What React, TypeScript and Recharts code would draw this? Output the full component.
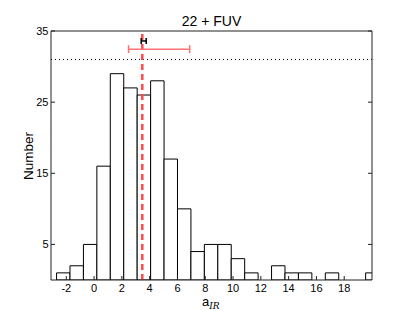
import React from "react";
import {
  ComposedChart, XAxis, YAxis, ReferenceArea, ReferenceLine, Scatter, ErrorBar
} from "recharts";

// histogram of a_IR, bins
const binStart = -2.7;
const binWidth = 0.967;
const counts = [1, 2, 5, 16, 29, 27, 26, 28, 17, 10, 4, 5, 5, 3, 1, 0, 2, 1, 1, 0, 1, 0, 0, 1];

const xTicks = [-2, 0, 2, 4, 6, 8, 10, 12, 14, 16, 18];
const yTicks = [5, 15, 25, 35];

const medianX = 3.47;
const dottedY = 31;
const redErr = [{ x: 4.68, y: 32.45, err: 2.2 }];
const blackErr = [{ x: 3.57, y: 33.6, err: 0.18 }];

const font = "'Liberation Sans', Arial, sans-serif";
const axisColor = "#222";

const BottomTick = (props: any) => {
  const { x, y, payload } = props;
  return (
    <g>
      <line x1={x} y1={y} x2={x} y2={y - 4} stroke={axisColor} />
      <text x={x} y={y + 11.5} textAnchor="middle" fontSize={11} fontFamily={font} fill="#000">
        {payload.value}
      </text>
    </g>
  );
};

const TopTick = (props: any) => {
  const { x, y } = props;
  return <line x1={x} y1={y} x2={x} y2={y + 4} stroke={axisColor} />;
};

const LeftTick = (props: any) => {
  const { x, y, payload } = props;
  return (
    <g>
      <line x1={x} y1={y} x2={x + 4} y2={y} stroke={axisColor} />
      <text x={x - 2.5} y={y + 4} textAnchor="end" fontSize={11} fontFamily={font} fill="#000">
        {payload.value}
      </text>
    </g>
  );
};

const RightTick = (props: any) => {
  const { x, y } = props;
  return <line x1={x} y1={y} x2={x - 4} y2={y} stroke={axisColor} />;
};

const hide = () => <g />;

export default function App() {
  return (
    <div style={{ position: "absolute", left: 0, top: 0, width: 414, height: 311, background: "#fff" }}>
      <ComposedChart
        width={414}
        height={311}
        margin={{ top: 30, right: 41, left: 21, bottom: 11 }}
      >
        <XAxis
          xAxisId="b"
          type="number"
          dataKey="x"
          domain={[-3.1, 20]}
          allowDataOverflow
          ticks={xTicks}
          height={20}
          tickSize={0}
          tickMargin={0}
          tick={BottomTick}
          stroke={axisColor}
        />
        <XAxis
          xAxisId="t"
          orientation="top"
          type="number"
          domain={[-3.1, 20]}
          allowDataOverflow
          ticks={xTicks}
          height={1}
          tickSize={0}
          tickMargin={0}
          tick={TopTick}
          stroke={axisColor}
        />
        <YAxis
          yAxisId="l"
          type="number"
          dataKey="y"
          domain={[0, 35]}
          allowDataOverflow
          ticks={yTicks}
          width={30}
          tickSize={0}
          tickMargin={0}
          tick={LeftTick}
          stroke={axisColor}
        />
        <YAxis
          yAxisId="r"
          orientation="right"
          type="number"
          domain={[0, 35]}
          allowDataOverflow
          ticks={yTicks}
          width={1}
          tickSize={0}
          tickMargin={0}
          tick={RightTick}
          stroke={axisColor}
        />
        {counts.map((c, i) =>
          c > 0 ? (
            <ReferenceArea
              key={i}
              xAxisId="b"
              yAxisId="l"
              x1={binStart + i * binWidth}
              x2={binStart + (i + 1) * binWidth}
              y1={0}
              y2={c}
              fill="#fff"
              fillOpacity={1}
              stroke="#000"
              strokeWidth={1}
              ifOverflow="hidden"
            />
          ) : null
        )}
        <ReferenceLine
          xAxisId="b"
          yAxisId="l"
          y={dottedY}
          stroke="#000"
          strokeWidth={1}
          strokeDasharray="1 3"
        />
        <ReferenceLine
          xAxisId="b"
          yAxisId="l"
          x={medianX}
          stroke="#ff4a4a"
          strokeWidth={2.5}
          strokeDasharray="6 4"
        />
        <Scatter
          xAxisId="b"
          yAxisId="l"
          data={redErr}
          shape={hide}
          isAnimationActive={false}
        >
          <ErrorBar dataKey="err" direction="x" width={4} stroke="#ff7373" strokeWidth={1.5} isAnimationActive={false} />
        </Scatter>
        <Scatter
          xAxisId="b"
          yAxisId="l"
          data={blackErr}
          shape={hide}
          isAnimationActive={false}
        >
          <ErrorBar dataKey="err" direction="x" width={3} stroke="#000" strokeWidth={1.5} isAnimationActive={false} />
        </Scatter>
      </ComposedChart>
      <svg
        width={414}
        height={311}
        style={{ position: "absolute", left: 0, top: 0, pointerEvents: "none" }}
      >
        <text x={211.5} y={26} textAnchor="middle" fontSize={14} fontFamily={font} fill="#000">
          22 + FUV
        </text>
        <text x={202} y={306} fontSize={13} fontFamily={font} fill="#000">
          a
          <tspan dy={3} fontSize={9} fontStyle="italic" fontFamily="'DejaVu Serif', serif">IR</tspan>
        </text>
        <text
          x={33}
          y={156}
          textAnchor="middle"
          fontSize={13.5}
          fontFamily={font}
          fill="#000"
          transform="rotate(-90 33 156)"
        >
          Number
        </text>
      </svg>
    </div>
  );
}
